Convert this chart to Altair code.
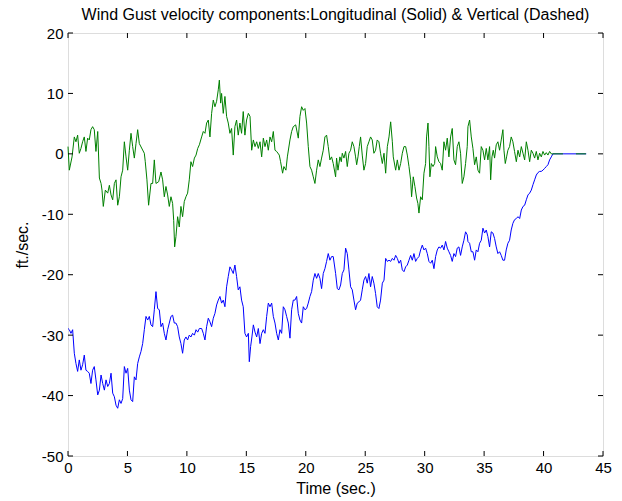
import altair as alt
import pandas as pd

# Longitudinal gust (blue, solid)
blue_t = [0.00, 0.11, 0.25, 0.39, 0.53, 0.67, 0.81, 0.95, 1.09, 1.23, 1.37, 1.51, 1.65, 1.79, 1.93, 2.07, 2.21, 2.35, 2.50, 2.64,
          2.78, 2.92, 3.06, 3.20, 3.34, 3.48, 3.62, 3.76, 3.90, 4.04, 4.18, 4.32, 4.46, 4.60, 4.74, 4.88, 5.02, 5.16, 5.30, 5.44,
          5.58, 5.72, 5.86, 6.00, 6.14, 6.28, 6.42, 6.56, 6.70, 6.84, 6.98, 7.12, 7.26, 7.40, 7.54, 7.68, 7.82, 7.96, 8.10, 8.24,
          8.38, 8.52, 8.66, 8.80, 8.94, 9.08, 9.22, 9.36, 9.50, 9.64, 9.78, 9.92, 10.06, 10.20, 10.34, 10.48, 10.63, 10.77, 10.91, 11.05,
          11.24, 11.38, 11.52, 11.66, 11.80, 11.94, 12.08, 12.22, 12.36, 12.50, 12.64, 12.78, 12.92, 13.06, 13.20, 13.34, 13.48, 13.62, 13.76, 13.90,
          14.04, 14.18, 14.32, 14.46, 14.60, 14.74, 14.88, 15.02, 15.17, 15.25, 15.36, 15.47, 15.59, 15.73, 15.87, 16.01, 16.15, 16.29, 16.43, 16.57,
          16.71, 16.85, 16.99, 17.13, 17.27, 17.41, 17.55, 17.69, 17.83, 17.97, 18.11, 18.25, 18.39, 18.53, 18.67, 18.81, 18.95, 19.09, 19.23, 19.37,
          19.51, 19.65, 19.79, 19.93, 20.07, 20.21, 20.35, 20.49, 20.63, 20.77, 20.91, 21.05, 21.19, 21.33, 21.47, 21.61, 21.75, 21.89, 22.03, 22.17,
          22.31, 22.51, 22.65, 22.79, 22.93, 23.07, 23.21, 23.35, 23.49, 23.63, 23.77, 23.91, 24.05, 24.19, 24.33, 24.47, 24.61, 24.75, 24.89, 25.03,
          25.17, 25.31, 25.45, 25.59, 25.73, 25.87, 26.01, 26.15, 26.29, 26.44, 26.58, 26.72, 26.86, 27.00, 27.14, 27.28, 27.42, 27.56, 27.70, 27.84,
          27.98, 28.12, 28.26, 28.40, 28.54, 28.68, 28.82, 28.96, 29.10, 29.24, 29.38, 29.52, 29.66, 29.80, 29.94, 30.08, 30.22, 30.36, 30.50, 30.64,
          30.78, 30.92, 31.06, 31.20, 31.34, 31.48, 31.62, 31.76, 31.90, 32.04, 32.18, 32.32, 32.46, 32.60, 32.74, 32.88, 33.02, 33.16, 33.30, 33.44,
          33.58, 33.64, 33.78, 33.92, 34.06, 34.20, 34.34, 34.48, 34.62, 34.76, 34.90, 35.04, 35.18, 35.32, 35.46, 35.60, 35.74, 35.88, 36.02, 36.16,
          36.30, 36.44, 36.58, 36.72, 36.86, 37.00, 37.14, 37.28, 37.42, 37.56, 37.71, 37.85, 37.99, 38.13, 38.27, 38.41, 38.55, 38.69, 38.83, 38.97,
          39.11, 39.25, 39.39, 39.53, 39.67, 39.81, 39.95, 40.09, 40.23, 40.37, 40.51, 40.65, 40.79, 43.59]
blue_v = [-28.9, -29.1, -29.7, -29.1, -33.0, -34.7, -36.0, -34.1, -35.8, -34.9, -33.3, -35.8, -36.0, -36.3, -38.0, -35.8, -35.2, -37.4, -39.9, -39.1,
          -36.6, -38.0, -39.1, -37.4, -38.5, -38.0, -36.3, -39.6, -40.2, -41.6, -42.1, -40.7, -41.3, -40.5, -35.2, -36.3, -35.5, -39.1, -40.7, -41.0,
          -36.9, -37.4, -34.7, -33.6, -32.7, -31.4, -29.1, -26.9, -27.5, -26.9, -28.3, -28.6, -25.8, -22.8, -25.6, -25.8, -28.6, -28.0, -29.7, -30.8,
          -29.1, -28.0, -26.9, -26.7, -28.0, -28.0, -28.6, -30.3, -31.4, -33.0, -30.8, -30.3, -30.8, -30.0, -30.3, -29.7, -30.0, -29.1, -29.5, -28.9,
          -28.9, -29.7, -30.8, -28.6, -27.2, -27.8, -28.6, -27.2, -26.4, -25.0, -24.2, -23.6, -24.7, -24.2, -25.3, -22.0, -20.3, -18.7, -19.2, -19.8,
          -18.4, -20.3, -22.5, -22.0, -24.2, -25.3, -29.7, -30.3, -29.7, -34.4, -31.9, -30.3, -28.3, -29.5, -30.3, -28.9, -31.4, -29.7, -29.1, -29.7,
          -26.9, -24.7, -25.3, -24.7, -26.9, -28.0, -29.7, -30.8, -29.1, -29.7, -25.3, -25.8, -26.9, -28.0, -30.5, -25.8, -24.2, -24.2, -23.6, -26.4,
          -27.5, -28.0, -25.3, -25.8, -25.6, -24.7, -23.6, -22.8, -20.9, -19.8, -20.6, -19.8, -20.6, -22.3, -19.8, -19.0, -17.8, -16.5, -17.6, -17.0,
          -17.0, -19.8, -22.3, -22.5, -21.7, -19.8, -19.2, -15.6, -16.5, -19.2, -22.0, -22.5, -24.2, -25.8, -24.7, -24.5, -24.2, -22.5, -20.9, -20.3,
          -21.4, -19.8, -22.0, -20.3, -21.4, -23.1, -25.3, -25.6, -24.2, -21.4, -20.9, -17.3, -17.8, -17.6, -17.8, -17.3, -17.6, -16.8, -17.3, -18.1,
          -17.6, -19.2, -19.5, -18.7, -18.4, -17.6, -16.8, -17.6, -16.5, -17.8, -17.3, -17.0, -15.9, -15.1, -15.9, -15.6, -16.5, -17.8, -18.1, -17.6,
          -19.0, -17.0, -15.9, -15.4, -15.6, -15.1, -15.9, -14.5, -15.6, -16.2, -16.8, -17.8, -16.5, -17.0, -15.6, -15.4, -16.8, -15.4, -14.3, -12.9,
          -13.4, -14.5, -14.8, -16.2, -16.2, -17.6, -15.9, -16.2, -14.8, -14.3, -12.3, -13.1, -12.6, -13.7, -15.4, -12.9, -13.1, -14.0, -15.4, -16.5,
          -16.2, -16.8, -17.6, -17.6, -15.9, -14.8, -14.3, -12.6, -11.5, -10.9, -10.7, -10.4, -10.7, -9.3, -8.7, -8.5, -7.6, -6.8, -6.5, -6.0,
          -5.1, -4.3, -3.5, -3.1, -2.9, -2.9, -2.7, -2.4, -2.1, -1.8, -1.0, -0.5, 0.0, 0.0]

# Vertical gust (green)
green_t = [0.00, 0.11, 0.34, 0.53, 0.67, 0.81, 0.95, 1.09, 1.23, 1.37, 1.51, 1.65, 1.79, 1.93, 2.07, 2.21, 2.35, 2.50, 2.64, 2.78,
           2.86, 2.97, 3.14, 3.34, 3.48, 3.62, 3.76, 3.90, 4.04, 4.18, 4.32, 4.46, 4.60, 4.74, 4.88, 5.02, 5.16, 5.30, 5.44, 5.58,
           5.72, 5.86, 6.00, 6.42, 6.50, 6.64, 6.78, 6.98, 7.12, 7.26, 7.40, 7.63, 7.82, 7.96, 8.10, 8.24, 8.38, 8.52, 8.66, 8.80,
           8.89, 8.97, 9.08, 9.22, 9.36, 9.50, 9.64, 9.78, 9.92, 10.06, 10.20, 10.34, 10.48, 10.63, 10.77, 10.91, 11.05, 11.24, 11.38, 11.52,
           11.66, 11.80, 11.94, 12.08, 12.22, 12.36, 12.50, 12.64, 12.73, 12.84, 12.92, 13.06, 13.20, 13.34, 13.48, 13.62, 13.76, 13.90, 14.04, 14.18,
           14.32, 14.46, 14.60, 14.74, 14.88, 15.02, 15.17, 15.31, 15.45, 15.59, 15.73, 15.87, 16.01, 16.15, 16.29, 16.43, 16.57, 16.71, 16.85, 16.99,
           17.13, 17.27, 17.41, 17.55, 17.77, 17.88, 18.05, 18.16, 18.33, 18.45, 18.67, 18.81, 18.95, 19.15, 19.37, 19.51, 19.65, 19.79, 19.93, 20.07,
           20.21, 20.35, 20.49, 20.63, 20.77, 20.91, 21.05, 21.19, 21.33, 21.47, 21.61, 21.75, 21.89, 22.03, 22.17, 22.31, 22.51, 22.59, 22.71, 22.87,
           22.99, 23.07, 23.21, 23.35, 23.49, 23.63, 23.77, 23.91, 24.05, 24.19, 24.28, 24.39, 24.50, 24.61, 24.75, 24.89, 25.03, 25.17, 25.31, 25.45,
           25.59, 25.73, 25.87, 26.01, 26.15, 26.29, 26.44, 26.58, 26.72, 26.86, 27.00, 27.14, 27.28, 27.36, 27.56, 27.70, 27.84, 27.98, 28.12, 28.26,
           28.40, 28.54, 28.68, 28.82, 28.90, 29.04, 29.18, 29.32, 29.43, 29.52, 29.66, 29.80, 29.94, 30.08, 30.16, 30.28, 30.36, 30.44, 30.56, 30.70,
           30.84, 30.92, 31.06, 31.20, 31.34, 31.48, 31.62, 31.76, 31.90, 32.04, 32.18, 32.32, 32.46, 32.60, 32.74, 32.88, 33.02, 33.16, 33.30, 33.44,
           33.58, 33.64, 33.78, 33.92, 34.06, 34.20, 34.34, 34.48, 34.62, 34.76, 34.90, 35.04, 35.18, 35.32, 35.46, 35.55, 35.66, 35.77, 35.88, 36.02,
           36.16, 36.30, 36.44, 36.58, 36.67, 36.78, 36.89, 37.00, 37.14, 37.28, 37.42, 37.56, 37.71, 37.85, 37.99, 38.13, 38.27, 38.41, 38.55, 38.69,
           38.83, 38.97, 39.11, 39.25, 39.39, 39.53, 39.67, 39.81, 39.95, 40.09, 40.23, 40.37, 40.51, 40.65, 40.79]
green_v = [1.2, -2.7, -0.5, 2.8, 2.0, 3.1, 0.1, 0.9, 2.0, 2.8, 0.4, 2.6, 2.3, 4.0, 4.5, 4.0, 0.4, 3.7, -4.0, -4.9,
           -6.0, -8.7, -6.0, -6.5, -5.2, -6.8, -7.6, -4.9, -4.3, -8.5, -7.1, -3.8, -2.7, 2.0, -0.5, -2.7, 0.6, 3.4, 1.2, -0.7,
           1.7, 4.0, 1.7, 0.1, -1.3, -4.3, -8.5, -4.9, -4.9, -1.0, -4.9, -4.6, -3.0, -4.3, -7.1, -5.4, -6.8, -8.7, -7.1, -8.2,
           -11.0, -15.4, -13.7, -10.4, -12.1, -8.7, -10.4, -7.9, -7.1, -6.5, -4.3, -1.3, -2.1, -0.7, -0.2, 0.9, 1.5, 2.8, 3.7, 3.4,
           5.1, 5.6, 2.8, 6.7, 8.9, 7.8, 8.7, 10.6, 12.2, 8.4, 10.0, 6.7, 9.5, 6.2, 5.1, 3.4, 4.2, -0.2, 4.5, 5.6,
           3.1, 5.1, 3.4, 7.0, 3.1, 5.6, 6.7, 6.2, 0.6, 2.3, 1.2, 2.0, 0.9, 2.0, -0.5, 2.6, 1.2, 2.3, 0.6, 2.8,
           2.0, 3.7, 0.6, 0.4, -0.2, -1.3, -3.2, -2.1, -2.7, -0.5, 2.3, 3.7, 4.5, 4.8, 2.6, 6.2, 7.8, 7.2, 7.5, 5.1,
           1.2, -2.1, -2.7, -3.8, -4.9, -2.7, -1.0, -2.1, -0.7, 0.6, 2.8, 3.1, 1.2, -1.0, -0.5, -1.6, -3.8, -0.7, -2.7, -0.5,
           -1.3, 0.1, -0.7, 0.4, -2.1, 0.1, 0.6, 2.0, 1.2, -0.5, -1.8, -0.5, 1.2, 2.8, -0.2, -2.7, -1.6, 1.2, 2.0, 2.8,
           2.3, 0.1, 0.6, 2.3, 2.0, 0.1, -1.6, 0.1, -3.2, 1.2, 2.8, 5.3, 2.0, -0.5, -2.7, -1.0, -2.7, -1.6, 0.1, 1.2,
           1.2, -0.2, -2.1, -4.3, -7.1, -3.8, -5.4, -7.3, -8.2, -9.8, -7.1, -7.6, -3.2, -1.6, 2.8, 5.1, 1.2, -3.8, -1.6, -2.1,
           -1.6, 1.2, -0.5, -1.3, -1.6, -2.7, 2.0, 0.6, 2.6, -0.5, 2.8, 4.2, -1.0, -1.8, 1.2, 2.0, 0.1, -4.9, -3.8, -1.6,
           1.2, 4.5, 5.6, 2.8, 0.9, -1.8, -0.5, -2.7, -3.2, 1.2, 0.6, -1.0, 0.9, -1.0, 1.2, -4.3, -0.5, 0.6, -0.7, 1.5,
           2.0, 0.6, 2.3, 4.0, 0.6, -1.6, -0.5, 0.6, 1.2, 2.8, 2.0, 0.4, -1.3, 0.6, -0.5, 1.2, 0.1, -1.0, 2.0, 0.6,
           -1.3, 0.6, 0.1, -0.7, 0.4, -1.0, 0.1, -0.5, 0.4, -0.2, 0.2, -0.2, 0.4, 0.0, 0.0]
green_tail_t = [40.79, 43.59]
green_tail_v = [0.0, 0.0]

x_ticks = [0, 5, 10, 15, 20, 25, 30, 35, 40, 45]
y_ticks = [-50, -40, -30, -20, -10, 0, 10, 20]

W, H = 535, 423
FONT = "Liberation Sans"
FS = 15
TS = 16

blue_df = pd.DataFrame({"t": blue_t, "v": blue_v})
green_df = pd.DataFrame({"t": green_t, "v": green_v})
tail_df = pd.DataFrame({"t": green_tail_t, "v": green_tail_v})
xt_df = pd.DataFrame({"x": x_ticks})
yt_df = pd.DataFrame({"y": y_ticks})

xs = alt.Scale(domain=[0, 45], nice=False, zero=False)
ys = alt.Scale(domain=[-50, 20], nice=False, zero=False)

x_axis = alt.Axis(values=x_ticks, grid=False, ticks=False, domain=False, labelFontSize=FS,
                  labelFont=FONT, labelColor="black", labelPadding=4, title="Time (sec.)",
                  titleFont=FONT, titleFontSize=TS, titleFontWeight="normal", titleColor="black",
                  titlePadding=5, labelFlush=False, labelExpr="'' + datum.value")
y_axis = alt.Axis(values=y_ticks, grid=False, ticks=False, domain=False, labelFontSize=FS,
                  labelFont=FONT, labelColor="black", labelPadding=5, title="ft./sec.",
                  titleFont=FONT, titleFontSize=TS, titleFontWeight="normal", titleColor="black",
                  titlePadding=11, labelFlush=False, labelExpr="'' + datum.value")

blue = alt.Chart(blue_df).mark_line(color="#0000ff", strokeWidth=1).encode(
    x=alt.X("t:Q", scale=xs, axis=x_axis),
    y=alt.Y("v:Q", scale=ys, axis=y_axis),
)
green = alt.Chart(green_df).mark_line(color="#008000", strokeWidth=1).encode(
    x=alt.X("t:Q", scale=xs), y=alt.Y("v:Q", scale=ys))
tail = alt.Chart(tail_df).mark_line(color="#008000", strokeWidth=1, strokeDash=[10, 13]).encode(
    x=alt.X("t:Q", scale=xs), y=alt.Y("v:Q", scale=ys))

tb = alt.Chart(xt_df).mark_rule(color="black", strokeWidth=1).encode(
    x=alt.X("x:Q", scale=xs), y=alt.value(H), y2=alt.value(H - 5))
tt = alt.Chart(xt_df).mark_rule(color="black", strokeWidth=1).encode(
    x=alt.X("x:Q", scale=xs), y=alt.value(0), y2=alt.value(5))
tl = alt.Chart(yt_df).mark_rule(color="black", strokeWidth=1).encode(
    y=alt.Y("y:Q", scale=ys), x=alt.value(0), x2=alt.value(5))
tr = alt.Chart(yt_df).mark_rule(color="black", strokeWidth=1).encode(
    y=alt.Y("y:Q", scale=ys), x=alt.value(W), x2=alt.value(W - 5))

chart = alt.layer(blue, green, tail, tb, tt, tl, tr).properties(
    width=W, height=H,
    title=alt.TitleParams(
        "Wind Gust velocity components:Longitudinal (Solid) & Vertical (Dashed)",
        font=FONT, fontSize=TS, fontWeight="normal", color="black", offset=3, anchor="middle"),
    autosize=alt.AutoSizeParams(type="none"),
    padding={"left": 68, "top": 33, "right": 19, "bottom": 45},
).configure_view(stroke="black", strokeWidth=1).configure(background="white")

chart.save("out.html", embed_options={"renderer": "svg", "actions": False})
